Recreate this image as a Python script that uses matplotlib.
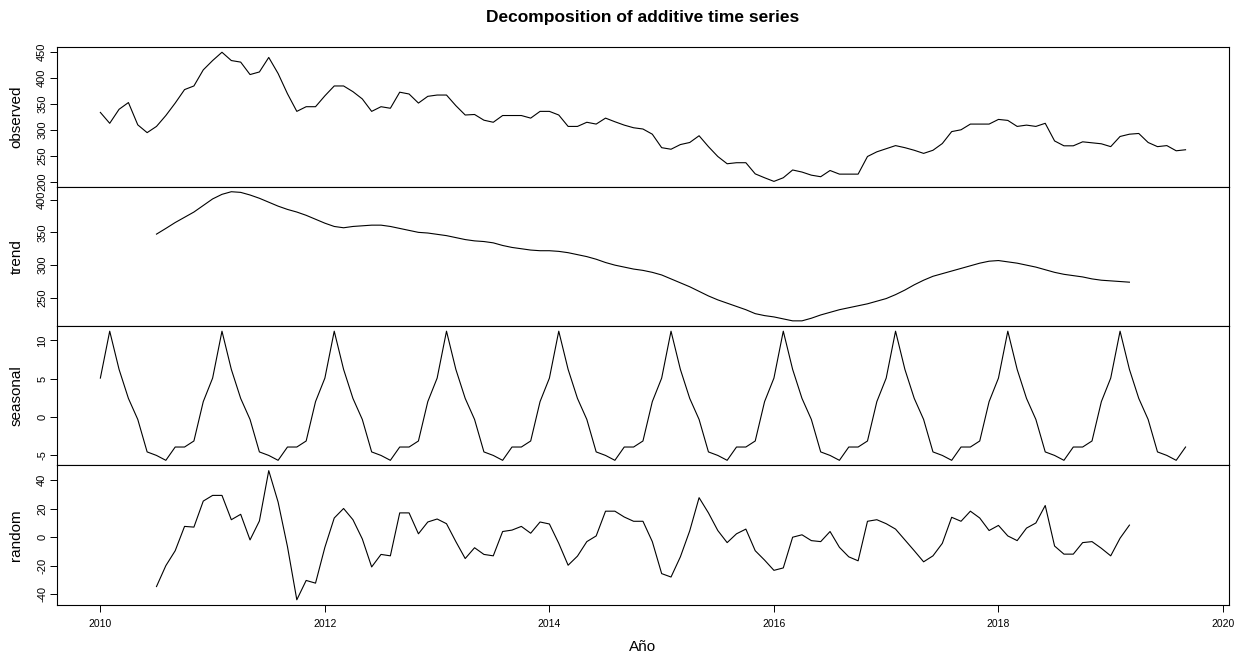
import matplotlib
matplotlib.use("Agg")
import matplotlib.pyplot as plt
import numpy as np

plt.rcParams['font.family'] = ['Liberation Sans', 'DejaVu Sans']

# monthly series, Jan 2010 .. Sep 2019
start_year = 2010
observed = [
    334, 313, 340, 353, 310, 295, 307, 328, 352, 378, 385, 416,
    434, 450, 434, 431, 407, 412, 440, 409, 370, 336, 345, 345,
    366, 385, 385, 374, 360, 336, 345, 342, 373, 369.5, 352, 365,
    367.5, 367.5, 347, 329, 330, 319, 315, 328, 328, 328, 323, 336,
    336, 329, 307, 307, 315, 311.5, 323, 316, 309.5, 304.4, 302, 292,
    266, 263, 272, 276, 289, 268, 249, 235, 237, 237, 215.5, 208,
    201, 208, 223, 219, 213, 210, 222, 215, 215, 215, 249, 258,
    264, 270, 266, 261, 255, 261, 274, 297, 300.5, 311.5, 311.5, 311.5,
    320.5, 318.6, 307, 309.5, 307, 313, 279, 269.6, 269.6, 277.3, 275.4, 273.5,
    268, 287.6, 292, 293.4, 276, 268, 270, 260, 262,
]

# centred moving average, Jul 2010 .. Mar 2019
trend_core = [
    347.3, 356, 365, 373, 381, 391,
    401, 408, 412, 411, 407, 402, 396, 390, 385, 381, 376, 370,
    364, 359, 357, 359, 360, 361, 361, 359, 356, 353, 350, 349,
    347, 345, 342, 339, 337, 336, 334, 330, 327, 325, 323, 322,
    322, 321, 319, 316, 313, 309, 304, 300, 297, 294, 292, 289,
    285, 279, 273, 267, 260, 253, 247, 242, 237, 232, 226, 223,
    221, 218, 215, 215, 219, 224, 228, 232, 235, 238, 241, 245,
    249, 255, 262, 270, 277, 283, 287, 291, 295, 299, 303, 306,
    307, 305, 303, 300, 297, 293, 289, 286, 284, 282, 279, 277,
    276, 275, 274,
]

# seasonal figure, Jan .. Dec
seasonal_fig = [5.06, 11.2, 6.2, 2.4, -0.35, -4.6, -5.06, -5.7, -3.96, -3.96, -3.17, 1.98]

random_core = [
    -34.7, -20, -9.5, 7.6, 7.1, 25.4,
    29.4, 29.4, 12.3, 16.1, -1.9, 11.4, 46.8, 24.7, -6.6, -44, -30.4, -32.3,
    -7.1, 13.5, 20.2, 12.3, -1.2, -20.9, -12.1, -13.1, 17.1, 17.1, 2.4, 10.7,
    12.8, 9.5, -3.1, -15, -7.4, -12.1, -13.1, 4, 5, 7.6, 2.8, 10.7,
    9.3, -4.3, -19.7, -13.3, -3.1, 0.9, 18.3, 18.3, 14.2, 11.2, 11.2, -3.1,
    -25.6, -28, -13.8, 4.5, 27.8, 17.1, 4.7, -3.8, 2.4, 5.7, -9.5, -16.1,
    -23.3, -21.6, 0, 1.7, -2.4, -3.1, 4, -7.1, -13.8, -16.6, 11.2, 12.3,
    9.5, 5.7, -1.9, -9.5, -17.3, -13.1, -4.3, 14, 11.2, 18.3, 13.5, 4.7,
    8.3, 0.9, -2.4, 6.4, 10, 22.3, -6.2, -11.9, -11.9, -3.8, -3.1, -7.8,
    -13.1, -0.7, 8.5,
]

n = len(observed)
t = start_year + np.arange(n) / 12.0
pad_end = n - 6 - len(trend_core)
trend = np.concatenate([np.full(6, np.nan), trend_core, np.full(pad_end, np.nan)])
random_part = np.concatenate([np.full(6, np.nan), random_core, np.full(pad_end, np.nan)])
seasonal = np.resize(seasonal_fig, n)

panels = [
    ("observed", np.array(observed, float), [200, 250, 300, 350, 400, 450]),
    ("trend", trend, [250, 300, 350, 400]),
    ("seasonal", seasonal, [-5, 0, 5, 10]),
    ("random", random_part, [-40, -20, 0, 20, 40]),
]

fig = plt.figure(figsize=(12.38, 6.54), dpi=100)
gs = fig.add_gridspec(4, 1, left=0.046, right=0.9927, top=0.928, bottom=0.075, hspace=0)

xspan = t[-1] - t[0]
axes = []
for i, (name, y, ticks) in enumerate(panels):
    ax = fig.add_subplot(gs[i])
    ax.plot(t, y, color='black', lw=0.8)
    lo, hi = np.nanmin(y), np.nanmax(y)
    r = hi - lo
    ax.set_ylim(lo - 0.04 * r, hi + 0.04 * r)
    ax.set_xlim(t[0] - 0.04 * xspan, t[-1] + 0.04 * xspan)
    ax.set_yticks(ticks)
    ax.set_yticklabels([str(v) for v in ticks], rotation=90, va='center', fontsize=8)
    ax.tick_params(axis='y', direction='out', length=5, width=0.7, pad=2)
    ax.set_ylabel(name, fontsize=11, labelpad=10)
    for s in ax.spines.values():
        s.set_linewidth(0.8)
    if i < 3:
        ax.tick_params(axis='x', bottom=False, labelbottom=False)
    axes.append(ax)

bottom_ax = axes[-1]
bottom_ax.set_xticks(np.arange(2010, 2021, 2))
bottom_ax.tick_params(axis='x', direction='out', length=5, width=0.7, labelsize=7.5, pad=5)
bottom_ax.set_xlabel("Año", fontsize=11, labelpad=8)

fig.align_ylabels(axes)
fig.suptitle("Decomposition of additive time series", fontsize=12.5, fontweight='bold', x=0.519, y=0.985)

fig.savefig("out.png", dpi=100)
